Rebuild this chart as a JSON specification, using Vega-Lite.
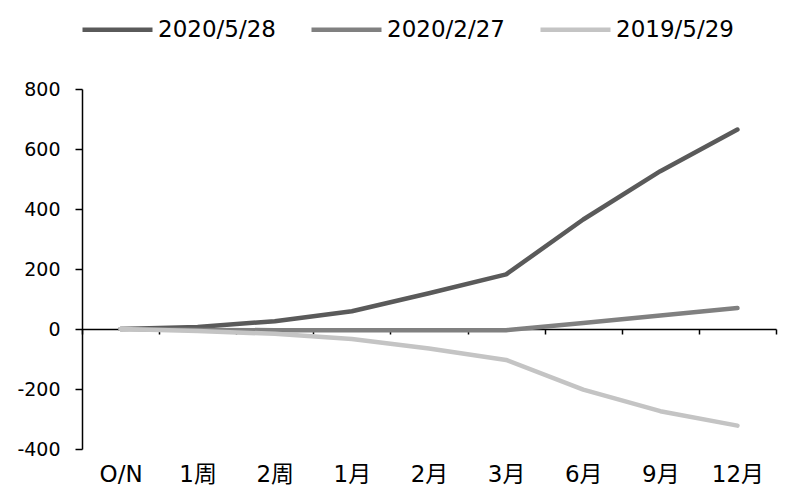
{
  "$schema": "https://vega.github.io/schema/vega-lite/v6.json",
  "width": 694,
  "height": 360,
  "autosize": {"type": "none"},
  "padding": {"left": 82, "top": 89, "right": 11, "bottom": 55},
  "background": "white",
  "config": {
    "view": {"stroke": null},
    "font": "DejaVu Sans"
  },
  "data": {
    "values": [
      {"tenor": "O/N", "series": "2020/5/28", "value": 0},
      {"tenor": "1周", "series": "2020/5/28", "value": 7},
      {"tenor": "2周", "series": "2020/5/28", "value": 26},
      {"tenor": "1月", "series": "2020/5/28", "value": 59},
      {"tenor": "2月", "series": "2020/5/28", "value": 119},
      {"tenor": "3月", "series": "2020/5/28", "value": 182},
      {"tenor": "6月", "series": "2020/5/28", "value": 365},
      {"tenor": "9月", "series": "2020/5/28", "value": 526},
      {"tenor": "12月", "series": "2020/5/28", "value": 665},
      {"tenor": "O/N", "series": "2020/2/27", "value": 0},
      {"tenor": "1周", "series": "2020/2/27", "value": -3},
      {"tenor": "2周", "series": "2020/2/27", "value": -4},
      {"tenor": "1月", "series": "2020/2/27", "value": -4},
      {"tenor": "2月", "series": "2020/2/27", "value": -4},
      {"tenor": "3月", "series": "2020/2/27", "value": -4},
      {"tenor": "6月", "series": "2020/2/27", "value": 20},
      {"tenor": "9月", "series": "2020/2/27", "value": 45},
      {"tenor": "12月", "series": "2020/2/27", "value": 70},
      {"tenor": "O/N", "series": "2019/5/29", "value": 0},
      {"tenor": "1周", "series": "2019/5/29", "value": -7},
      {"tenor": "2周", "series": "2019/5/29", "value": -16},
      {"tenor": "1月", "series": "2019/5/29", "value": -33},
      {"tenor": "2月", "series": "2019/5/29", "value": -65},
      {"tenor": "3月", "series": "2019/5/29", "value": -103},
      {"tenor": "6月", "series": "2019/5/29", "value": -202},
      {"tenor": "9月", "series": "2019/5/29", "value": -274},
      {"tenor": "12月", "series": "2019/5/29", "value": -322}
    ]
  },
  "mark": {"type": "line", "strokeWidth": 4.5, "strokeCap": "round", "strokeJoin": "round"},
  "encoding": {
    "x": {
      "field": "tenor",
      "type": "ordinal",
      "sort": ["O/N", "1周", "2周", "1月", "2月", "3月", "6月", "9月", "12月"],
      "scale": {"type": "band", "paddingInner": 0, "paddingOuter": 0},
      "bandPosition": 0.5,
      "axis": {
        "title": null,
        "orient": "bottom",
        "offset": -120,
        "tickBand": "extent",
        "tickSize": 5,
        "tickColor": "black",
        "tickWidth": 1.5,
        "domainColor": "black",
        "domainWidth": 1.5,
        "labelAngle": 0,
        "labelBaseline": "alphabetic",
        "labelPadding": 147,
        "labelFont": "DejaVu Sans, Noto Sans CJK SC",
        "labelFontSize": 23,
        "labelColor": "black"
      }
    },
    "y": {
      "field": "value",
      "type": "quantitative",
      "scale": {"domain": [-400, 800], "nice": false, "zero": false},
      "axis": {
        "title": null,
        "values": [-400, -200, 0, 200, 400, 600, 800],
        "labelExpr": "'' + datum.value",
        "grid": false,
        "tickSize": 7,
        "tickColor": "black",
        "tickWidth": 1.5,
        "domainColor": "black",
        "domainWidth": 1.5,
        "labelPadding": 15,
        "labelFontSize": 19,
        "labelColor": "black",
        "labelFont": "DejaVu Sans"
      }
    },
    "color": {
      "field": "series",
      "type": "nominal",
      "scale": {
        "domain": ["2020/5/28", "2020/2/27", "2019/5/29"],
        "range": ["#5a5a5a", "#808080", "#c4c4c4"]
      },
      "legend": {
        "title": null,
        "orient": "none",
        "direction": "horizontal",
        "legendX": -2,
        "legendY": -97,
        "padding": 0,
        "symbolType": "stroke",
        "symbolSize": 4900,
        "symbolStrokeWidth": 4.5,
        "labelOffset": 3,
        "labelFontSize": 23,
        "labelColor": "black",
        "labelFont": "DejaVu Sans",
        "columnPadding": 26,
        "labelLimit": 300
      }
    }
  }
}
